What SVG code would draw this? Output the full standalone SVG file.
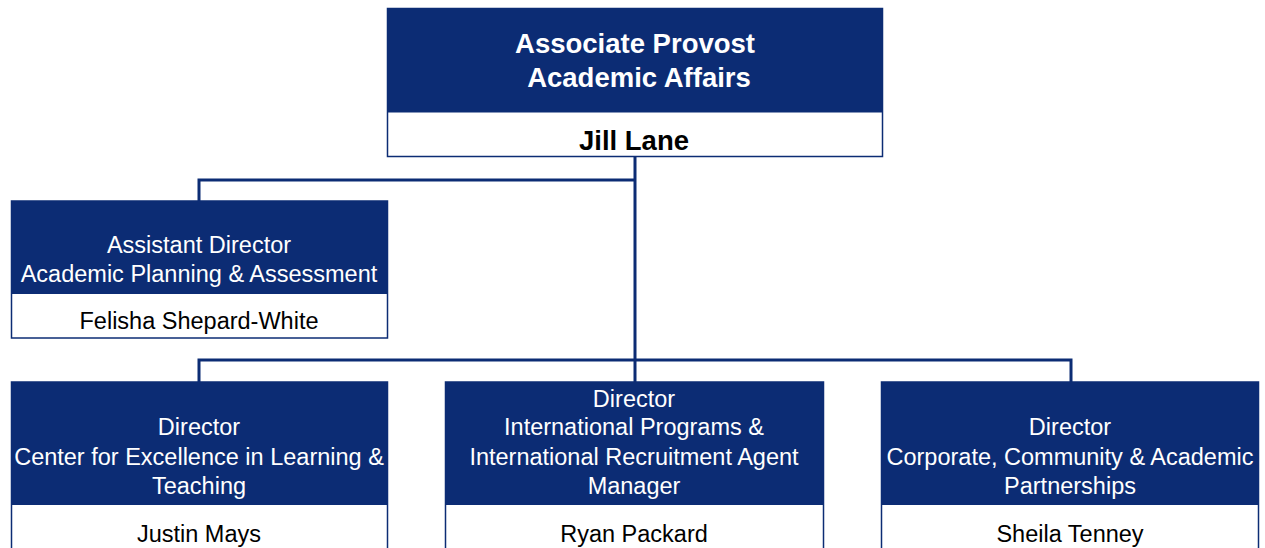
<svg xmlns="http://www.w3.org/2000/svg" width="1265" height="548" viewBox="0 0 1265 548">
<style>
.hdr{fill:#0C2C74}
.box{fill:#ffffff;stroke:#0C2C74;stroke-width:1.5}
.t{font-family:"Liberation Sans",Arial,sans-serif;text-anchor:middle}
.w{fill:#ffffff;font-size:23.5px}
.n{fill:#000000;font-size:23.5px}
.tb{font-weight:bold;font-size:27.5px}
.con{fill:none;stroke:#0C2C74;stroke-width:3}
</style>
<rect width="1265" height="548" fill="#ffffff"/>
<g id="connectors">
<path class="con" d="M635,157 V360 M635,180 H199 V201 M199,382 V360 H1071 V382 M635,360 V382"/>
</g>
<g id="node-associate-provost">
<rect class="box" x="387.5" y="8.5" width="495" height="148"/>
<rect class="hdr" x="387.5" y="8.5" width="495" height="104"/>
<text class="t tb" x="635" y="53" fill="#ffffff">Associate Provost</text>
<text class="t tb" x="639" y="87" fill="#ffffff">Academic Affairs</text>
<text class="t tb" x="634" y="150" fill="#000000">Jill Lane</text>
</g>
<g id="node-assistant-director">
<rect class="box" x="11.5" y="201" width="376" height="137"/>
<rect class="hdr" x="11.5" y="201" width="376" height="93"/>
<text class="t w" x="199" y="253">Assistant Director</text>
<text class="t w" x="199" y="282">Academic Planning &amp; Assessment</text>
<text class="t n" x="199" y="329">Felisha Shepard-White</text>
</g>
<g id="node-director-celt">
<rect class="box" x="11.5" y="382" width="376" height="190"/>
<rect class="hdr" x="11.5" y="382" width="376" height="123"/>
<text class="t w" x="199" y="435">Director</text>
<text class="t w" x="199" y="465">Center for Excellence in Learning &amp;</text>
<text class="t w" x="199" y="494">Teaching</text>
<text class="t n" x="199" y="542">Justin Mays</text>
</g>
<g id="node-director-international">
<rect class="box" x="445.5" y="382" width="378" height="190"/>
<rect class="hdr" x="445.5" y="382" width="378" height="123"/>
<text class="t w" x="634" y="407">Director</text>
<text class="t w" x="634" y="435">International Programs &amp;</text>
<text class="t w" x="634" y="465">International Recruitment Agent</text>
<text class="t w" x="634" y="494">Manager</text>
<text class="t n" x="634" y="542">Ryan Packard</text>
</g>
<g id="node-director-partnerships">
<rect class="box" x="881.5" y="382" width="377" height="190"/>
<rect class="hdr" x="881.5" y="382" width="377" height="123"/>
<text class="t w" x="1070" y="435">Director</text>
<text class="t w" x="1070" y="465">Corporate, Community &amp; Academic</text>
<text class="t w" x="1070" y="494">Partnerships</text>
<text class="t n" x="1070" y="542">Sheila Tenney</text>
</g>
</svg>
